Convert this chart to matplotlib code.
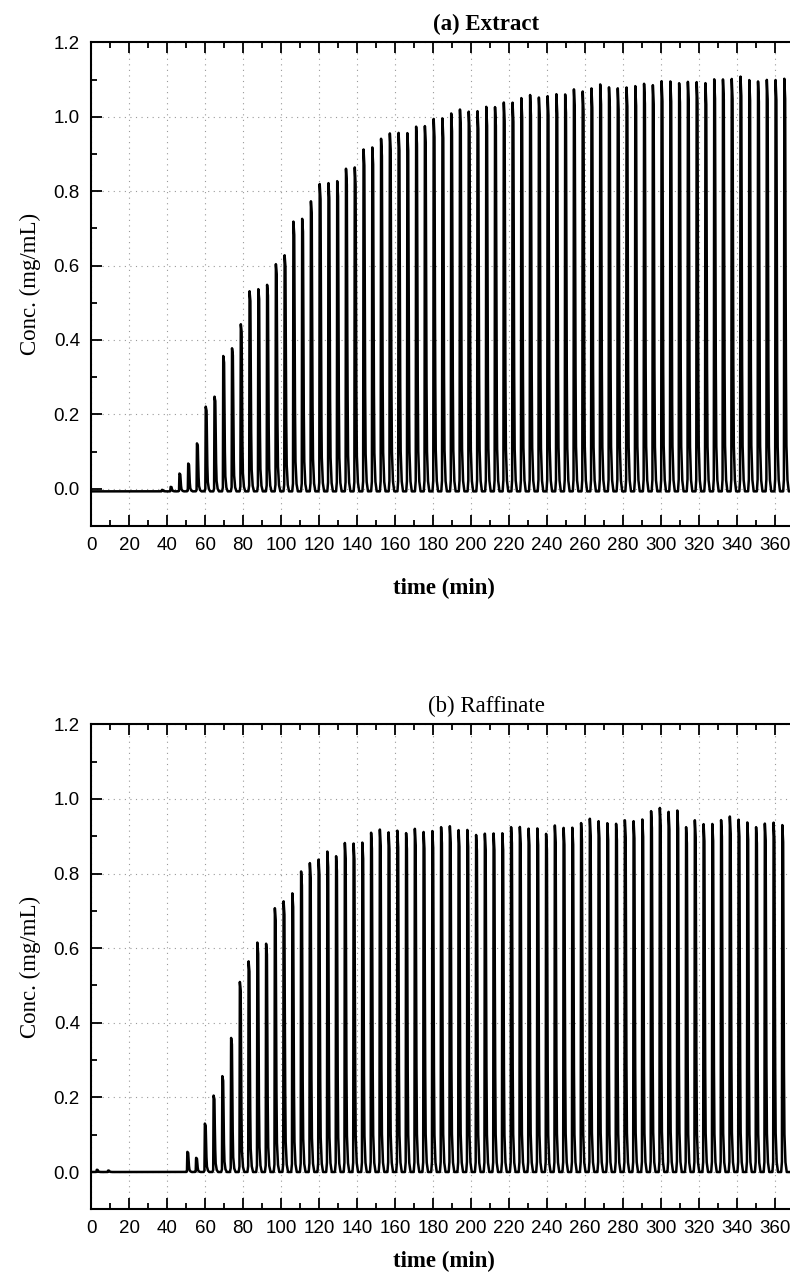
import numpy as np
import matplotlib
matplotlib.use("Agg")
import matplotlib.pyplot as plt
from matplotlib.ticker import MultipleLocator

# peak heights (mg/mL), one value per switching cycle
extract_start = 37.3      # min, first (tiny) extract peak
extract_period = 4.614    # min between peaks
extract_heights = [0.004, 0.012, 0.048, 0.075, 0.129, 0.228, 0.255, 0.364, 0.385, 0.450,
                   0.538, 0.544, 0.556, 0.612, 0.635, 0.726, 0.734, 0.780, 0.827, 0.830,
                   0.834, 0.868, 0.872, 0.921, 0.925, 0.949, 0.964, 0.964, 0.964, 0.982,
                   0.982, 1.002, 1.004, 1.018, 1.027, 1.022, 1.024, 1.034, 1.034, 1.047,
                   1.045, 1.058, 1.067, 1.061, 1.063, 1.069, 1.069, 1.081, 1.076, 1.085,
                   1.094, 1.087, 1.085, 1.088, 1.090, 1.097, 1.094, 1.103, 1.103, 1.099,
                   1.101, 1.101, 1.099, 1.110, 1.108, 1.110, 1.117, 1.106, 1.103, 1.108,
                   1.106, 1.110]
extract_base = -0.007

raffinate_start = 50.7
raffinate_period = 4.605
raffinate_heights = [0.054, 0.038, 0.130, 0.205, 0.257, 0.360, 0.510, 0.565, 0.615, 0.613,
                     0.708, 0.726, 0.747, 0.807, 0.829, 0.838, 0.859, 0.848, 0.883, 0.881,
                     0.883, 0.911, 0.919, 0.911, 0.915, 0.910, 0.921, 0.912, 0.914,
                     0.926, 0.928, 0.917, 0.917, 0.905, 0.908, 0.908, 0.908, 0.926, 0.926,
                     0.921, 0.921, 0.908, 0.930, 0.923, 0.923, 0.937, 0.948, 0.941, 0.935,
                     0.935, 0.944, 0.941, 0.945, 0.969, 0.977, 0.966, 0.969, 0.926, 0.944,
                     0.933, 0.933, 0.945, 0.954, 0.945, 0.937, 0.926, 0.935, 0.937, 0.930]
raffinate_base = 0.0
raffinate_bump_times = [3.0, 9.0]
raffinate_bump_heights = [0.006, 0.004]

# shape of one eluted peak (time offset in min, fraction of height)
shape_t = [-0.6, -0.2, 0.0, 0.45, 0.75, 1.05, 1.6, 2.3]
shape_f = [0.0, 0.03, 1.0, 0.95, 0.40, 0.12, 0.03, 0.0]

SERIF = ['Liberation Serif', 'DejaVu Serif']
NARROW = ['Liberation Sans Narrow', 'Liberation Sans', 'DejaVu Sans']


def trace(times, heights, base, t):
    y = np.full_like(t, base)
    for t0, h in zip(times, heights):
        y += h * np.interp(t - t0, shape_t, shape_f, left=0.0, right=0.0)
    return y


def style_axes(ax, title, bold_title, xlabel_y):
    ax.set_xlim(0, 412)
    ax.set_ylim(-0.1, 1.2)
    ax.set_xticks(np.arange(0, 361, 20))
    ax.xaxis.set_minor_locator(MultipleLocator(10))
    ax.set_yticks(np.arange(0, 1.21, 0.2))
    ax.set_yticklabels([f"{v:.1f}" for v in np.arange(0, 1.21, 0.2)])
    ax.yaxis.set_minor_locator(MultipleLocator(0.1))
    ax.tick_params(which='both', direction='in', top=True, right=True, width=1.3)
    ax.tick_params(which='major', length=8, pad=8)
    ax.tick_params(which='minor', length=4.5)
    for lab in ax.get_xticklabels() + ax.get_yticklabels():
        lab.set_family(NARROW)
        lab.set_fontsize(13.5)
    for s in ax.spines.values():
        s.set_linewidth(1.5)
    ax.grid(True, which='major', linestyle=(0, (1, 4)), color='#999999', linewidth=0.8)
    ax.set_title(title, family=SERIF, fontsize=16.5,
                 fontweight='bold' if bold_title else 'normal', pad=9, x=0.505)
    ax.set_ylabel('Conc. (mg/mL)', family=SERIF, fontsize=16.5, labelpad=9)
    ax.set_xlabel('time (min)', family=SERIF, fontsize=16.5, fontweight='bold')
    ax.xaxis.set_label_coords(0.451, xlabel_y)


t = np.arange(0, 412, 0.02)

fig = plt.figure(figsize=(7.9, 12.85), dpi=100)
ax1 = fig.add_axes([0.1152, 0.5907, 0.9909, 0.3763])
ax2 = fig.add_axes([0.1152, 0.0589, 0.9909, 0.3774])

ext_times = extract_start + extract_period * np.arange(len(extract_heights))
ax1.plot(t, trace(ext_times, extract_heights, extract_base, t), color='black', linewidth=1.8)
style_axes(ax1, '(a) Extract', True, -0.108)

raf_times = raffinate_start + raffinate_period * np.arange(len(raffinate_heights))
y2 = trace(raf_times, raffinate_heights, raffinate_base, t)
y2 += trace(raffinate_bump_times, raffinate_bump_heights, 0.0, t)
ax2.plot(t, y2, color='black', linewidth=1.8)
style_axes(ax2, '(b) Raffinate', False, -0.085)

fig.savefig('out.png', dpi=100)
